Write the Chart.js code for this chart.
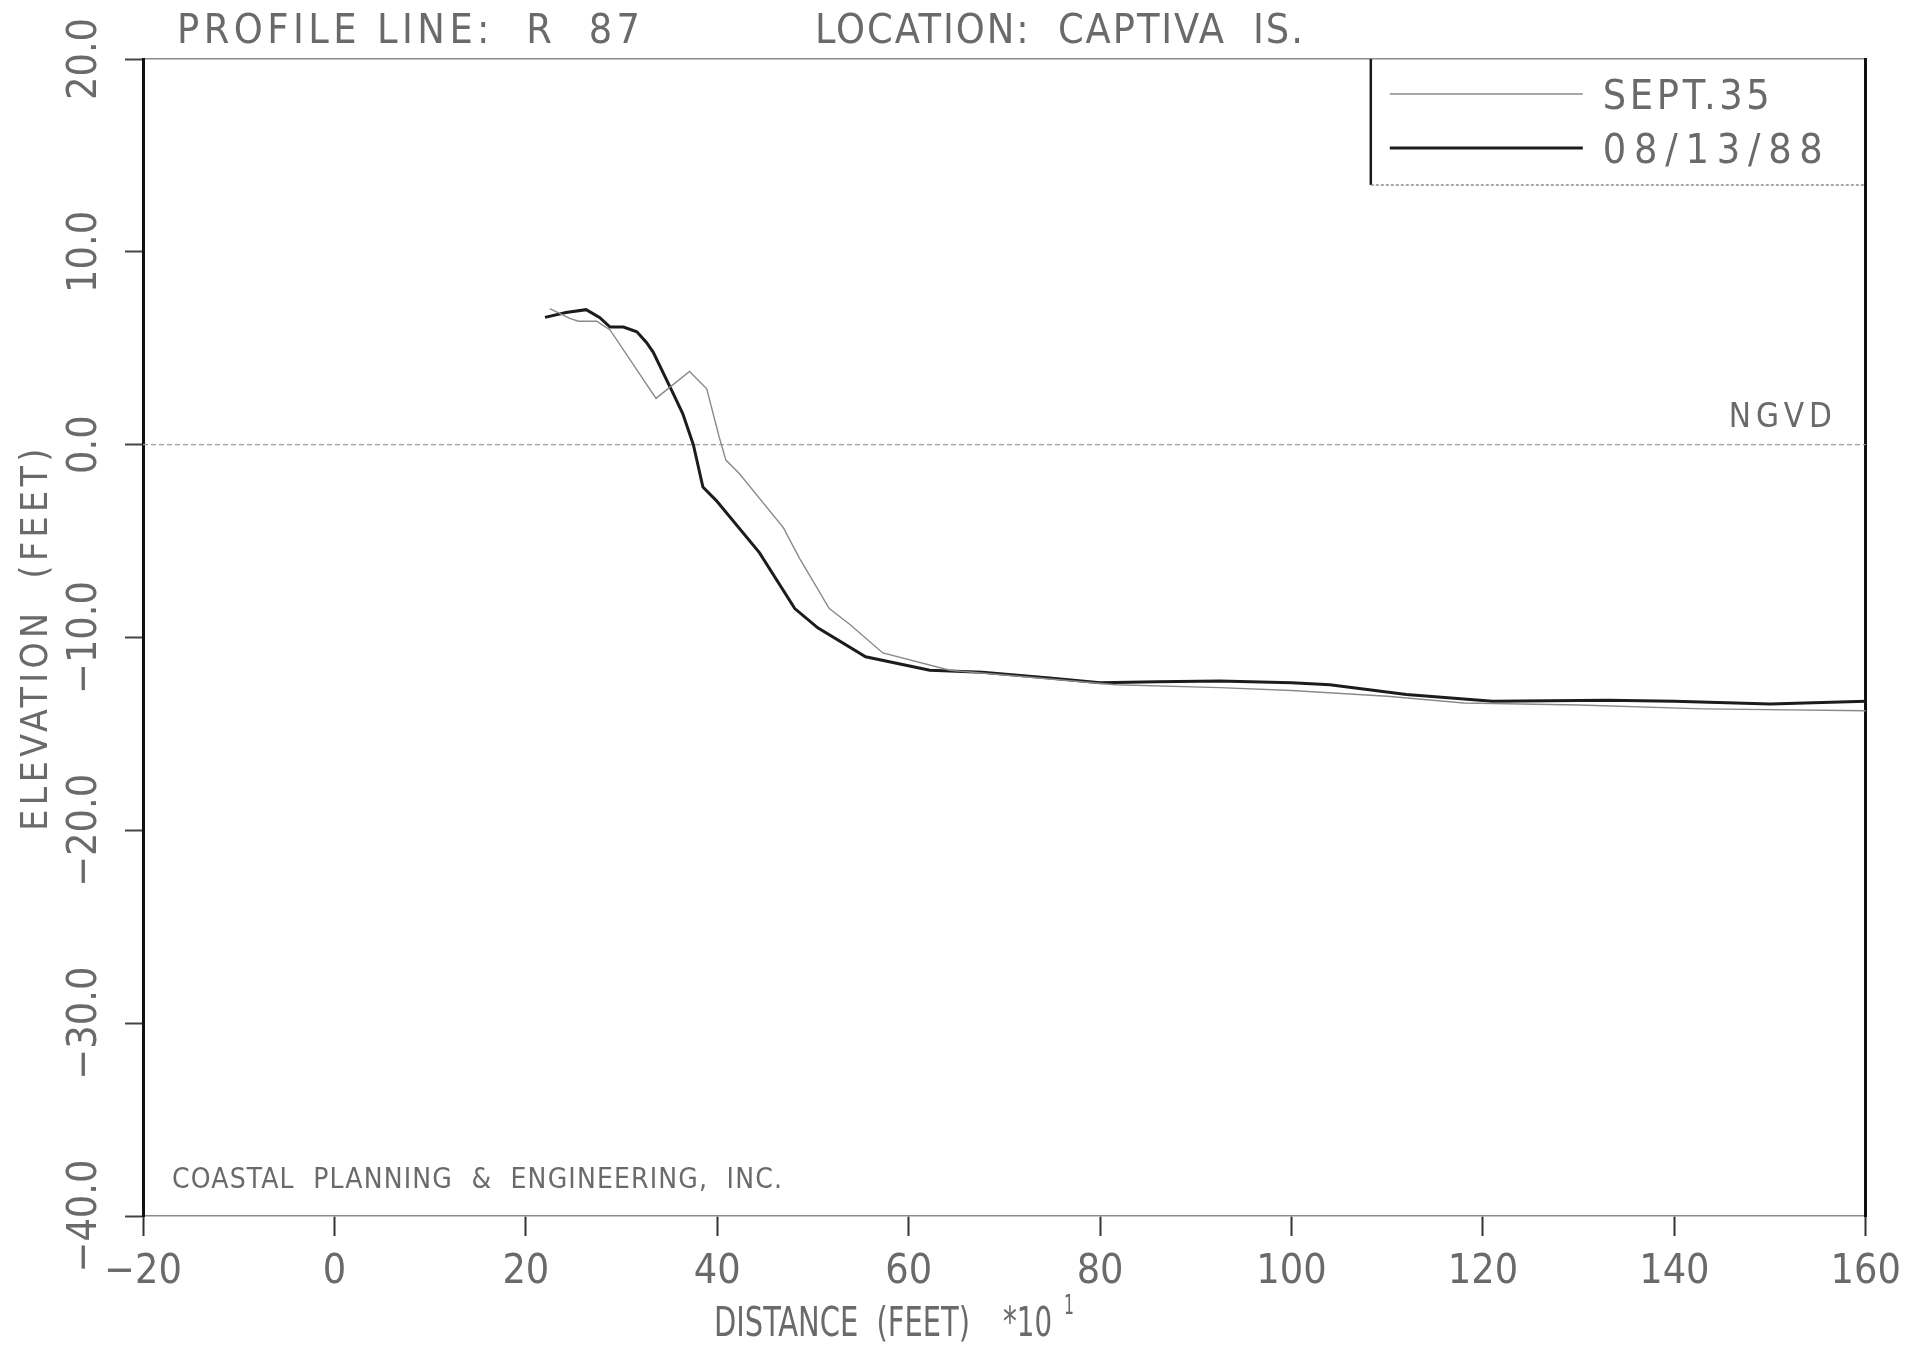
<!DOCTYPE html>
<html>
<head>
<meta charset="utf-8">
<title>Profile Line R 87 - Captiva Is.</title>
<script src="https://cdn.jsdelivr.net/npm/chart.js@4.4.1/dist/chart.umd.min.js"></script>
<style>
  html, body { margin: 0; padding: 0; background: #fff; }
  #wrap { width: 1913px; height: 1346px; }
</style>
</head>
<body>
<div id="wrap"><canvas id="profile" width="1913" height="1346"></canvas></div>
<script>
(function () {
  "use strict";

  /* ---- survey data: distance (ft x 10) / elevation (ft NGVD) ------- */
  const dist35 = [22.5, 24.6, 25.5, 27.4, 28.8, 33.6, 37.1, 38.9, 40.2, 40.9, 42.3, 46.9, 48.6,
                  51.7, 53.8, 57.3, 64.3, 71.2, 81.6, 92.5, 100.0, 110.0, 118.0, 130.0, 143.0, 160.0];
  const elev35 = [7.05, 6.55, 6.4, 6.4, 5.95, 2.4, 3.8, 2.9, 0.4, -0.8, -1.5, -4.3, -5.9,
                  -8.5, -9.3, -10.8, -11.7, -12.0, -12.45, -12.6, -12.75, -13.05, -13.4, -13.5, -13.7, -13.8];

  const dist88 = [22.0, 24.2, 26.3, 27.7, 28.8, 30.2, 31.6, 32.6, 33.3, 35.4, 36.4, 37.5, 38.5, 39.9,
                  44.4, 48.1, 50.5, 55.5, 62.2, 67.7, 74.7, 80.0, 86.0, 92.5, 100.0, 104.0, 112.0,
                  121.0, 133.0, 140.0, 150.0, 160.0];
  const elev88 = [6.6, 6.85, 7.0, 6.6, 6.1, 6.1, 5.85, 5.3, 4.8, 2.65, 1.6, 0.0, -2.2, -2.9,
                  -5.6, -8.5, -9.5, -11.0, -11.7, -11.8, -12.1, -12.35, -12.3, -12.25, -12.35, -12.45, -12.95,
                  -13.3, -13.25, -13.3, -13.45, -13.3];

  /* datum line */
  const ngvdX = [-20, 160];
  const ngvdY = [0, 0];

  /* axis ranges / tick steps */
  const xRange = [-20, 160];
  const yRange = [-40, 20];
  const xStep = 20;
  const yStep = 10;

  /* ---- look ------------------------------------------------------ */
  const FONT = '"DejaVu Sans Condensed", "Liberation Sans Narrow", sans-serif';
  const INK = "#6a6a6a";
  const C_OLD = "#8a8a8a";
  const C_NEW = "#1c1c1c";

  function pts(xs, ys) { return xs.map((x, i) => ({ x: x, y: ys[i] })); }
  function minus(s) { return s.replace("-", "\u2212"); }

  /* draw a string stretched (letter spacing) or squeezed (x scale) to a width */
  function fitText(ctx, str, x, y, size, width, opt) {
    opt = opt || {};
    ctx.save();
    ctx.font = size + "px " + FONT;
    ctx.letterSpacing = "0px";
    const w = ctx.measureText(str).width;
    let sx = 1;
    if (w < width && str.length > 1) {
      ctx.letterSpacing = ((width - w) / (str.length - 1)).toFixed(2) + "px";
    } else if (w > width) {
      sx = width / w;
    }
    ctx.fillStyle = opt.color || INK;
    ctx.textAlign = opt.align || "left";
    ctx.textBaseline = opt.baseline || "alphabetic";
    ctx.translate(x, y);
    if (opt.rotate) ctx.rotate(opt.rotate);
    ctx.scale(sx, 1);
    ctx.fillText(str, 0, 0);
    ctx.restore();
  }

  /* ---- headings, legend box and notes --------------------------- */
  const annotations = {
    id: "annotations",
    afterDraw(chart) {
      const ctx = chart.ctx;
      const a = chart.chartArea;
      const ys = chart.scales.y;

      fitText(ctx, "PROFILE LINE:  R  87", a.left + 34, 43, 41, 463);
      fitText(ctx, "LOCATION:  CAPTIVA  IS.", a.left + 672, 43, 41, 488);

      /* y axis title */
      fitText(ctx, "ELEVATION  (FEET)", 37, (a.top + a.bottom) / 2, 37, 382,
              { align: "center", baseline: "middle", rotate: -Math.PI / 2 });

      /* x axis title with the *10^1 multiplier */
      fitText(ctx, "DISTANCE  (FEET)", 714, 1336, 40, 256);
      fitText(ctx, "*10", 1003, 1336, 40, 49);
      fitText(ctx, "1", 1064, 1314, 26, 10);

      /* datum label */
      fitText(ctx, "NGVD", a.right - 137, ys.getPixelForValue(0) - 18, 33, 103);

      fitText(ctx, "COASTAL  PLANNING  &  ENGINEERING,  INC.", a.left + 29, 1188, 28, 610);

      /* legend box */
      const bl = a.right - 495, bt = a.top, bb = a.top + 126;
      ctx.save();
      ctx.strokeStyle = "#1a1a1a";
      ctx.lineWidth = 2.5;
      ctx.beginPath(); ctx.moveTo(bl, bt); ctx.lineTo(bl, bb); ctx.stroke();
      ctx.strokeStyle = "#8c8c8c";
      ctx.lineWidth = 1.5;
      ctx.setLineDash([3, 2]);
      ctx.beginPath(); ctx.moveTo(bl, bb); ctx.lineTo(a.right, bb); ctx.stroke();
      ctx.setLineDash([]);
      const rows = [35, 89];
      const widths = [167, 220];
      chart.data.datasets.slice(0, 2).forEach((ds, i) => {
        const y = bt + rows[i];
        ctx.strokeStyle = ds.borderColor;
        ctx.lineWidth = ds.borderWidth;
        ctx.beginPath(); ctx.moveTo(bl + 19, y); ctx.lineTo(bl + 212, y); ctx.stroke();
        fitText(ctx, ds.label, bl + 232, y + 15, 41, widths[i]);
      });
      ctx.restore();
    }
  };

  const tickFont = { family: FONT, size: 41 };

  new Chart(document.getElementById("profile"), {
    type: "scatter",
    data: {
      datasets: [
        { label: "SEPT.35", data: pts(dist35, elev35), showLine: true,
          borderColor: C_OLD, borderWidth: 1.4, pointRadius: 0 },
        { label: "08/13/88", data: pts(dist88, elev88), showLine: true,
          borderColor: C_NEW, borderWidth: 3, pointRadius: 0 },
        { label: "NGVD", data: pts(ngvdX, ngvdY), showLine: true,
          borderColor: "#9a9a9a", borderWidth: 1.3, borderDash: [5, 3], pointRadius: 0 }
      ]
    },
    options: {
      responsive: false,
      animation: false,
      events: [],
      layout: { padding: { left: 0, top: 59, right: 46, bottom: 0 } },
      plugins: { legend: { display: false }, tooltip: { enabled: false } },
      scales: {
        x: {
          type: "linear", position: "bottom", min: xRange[0], max: xRange[1],
          ticks: { stepSize: xStep, autoSkip: false, maxRotation: 0, padding: 12,
                   color: INK, font: tickFont, callback: (v) => minus(String(v)) },
          grid: { drawOnChartArea: false, tickLength: 20, tickColor: "#333", tickWidth: 2 },
          border: { color: "#8c8c8c", width: 1.5, dash: [3, 2] },
          afterFit: (s) => { s.height = 130; }
        },
        xTop: {
          type: "linear", position: "top", min: xRange[0], max: xRange[1],
          ticks: { display: false }, grid: { display: false },
          border: { color: "#8c8c8c", width: 1.5, dash: [3, 2] },
          afterFit: (s) => { s.height = 0; }
        },
        y: {
          type: "linear", position: "left", min: yRange[0], max: yRange[1],
          ticks: { stepSize: yStep, minRotation: 90, maxRotation: 90, crossAlign: "center",
                   padding: -17, color: INK, font: tickFont,
                   callback: (v) => minus(v.toFixed(1)) },
          grid: { drawOnChartArea: false, tickLength: 18, tickColor: "#444", tickWidth: 2 },
          border: { color: "#111", width: 3 },
          afterFit: (s) => { s.width = 143; }
        },
        yRight: {
          type: "linear", position: "right", min: yRange[0], max: yRange[1],
          ticks: { display: false }, grid: { display: false },
          border: { color: "#111", width: 3 },
          afterFit: (s) => { s.width = 0; }
        }
      }
    },
    plugins: [annotations]
  });
})();
</script>
</body>
</html>
